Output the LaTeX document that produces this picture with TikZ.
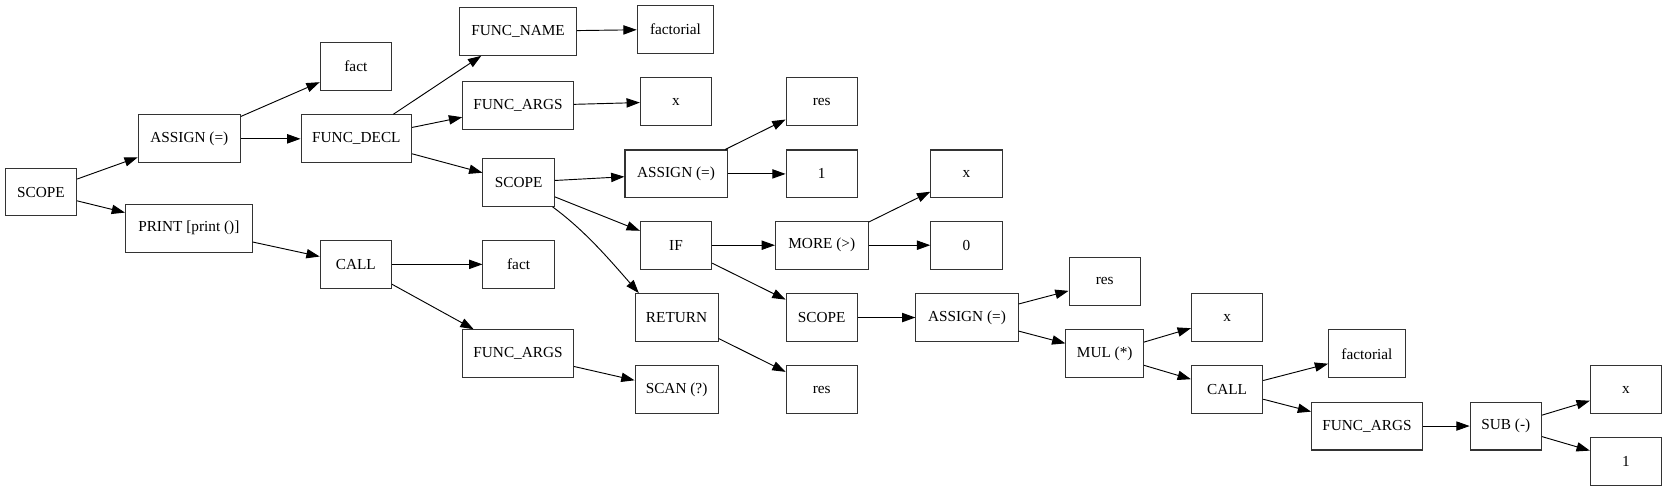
\documentclass[tikz,border=0pt]{standalone}
\usepackage{fontspec}
\setmainfont{Liberation Serif}
\usetikzlibrary{arrows.meta}
\begin{document}
\begin{tikzpicture}[x=0.8pt,y=-0.8pt,
  box/.style={draw=black!80,line width=0.8pt,rectangle,minimum height=36pt,minimum width=53.6pt,inner xsep=7.9pt,font=\fontsize{11.5}{13}\selectfont},
  w/.style={minimum width=#1*0.8pt},
  edge/.style={line width=0.7pt,-{Triangle[length=10pt,width=7pt]}}]
\useasboundingbox (0,0) rectangle (1568,462);
\node[box] (scope1) at (38.5,180.5) {SCOPE};
\node[box,w=96] (assign1) at (178,130.5) {ASSIGN (=)};
\node[box,w=119] (print) at (177.5,214.5) {PRINT [print ()]};
\node[box] (fact1) at (334.5,62.5) {fact};
\node[box,w=104] (fdecl) at (335,130.5) {FUNC\_DECL};
\node[box] (call1) at (334.5,248.5) {CALL};
\node[box,w=110] (fname) at (487,29.5) {FUNC\_NAME};
\node[box,w=104] (fargs1) at (487,99.5) {FUNC\_ARGS};
\node[box] (scope2) at (487.5,171.5) {SCOPE};
\node[box] (fact2) at (487.5,248.5) {fact};
\node[box,w=104] (fargs2) at (487,332.5) {FUNC\_ARGS};
\node[box,w=72] (factorial1) at (635,27.5) {factorial};
\node[box] (x1) at (635.5,95.5) {x};
\node[box,w=96] (assign2) at (635.5,163.5) {ASSIGN (=)};
\node[box] (if) at (635.5,230.5) {IF};
\node[box,w=78] (return) at (636,298.5) {RETURN};
\node[box,w=78] (scan) at (636,366.5) {SCAN (?)};
\node[box] (res1) at (772.5,95.5) {res};
\node[box] (one1) at (772.5,163.5) {1};
\node[box,w=87] (more) at (772.5,230.5) {MORE (>)};
\node[box] (scope3) at (772.5,298.5) {SCOPE};
\node[box] (res2) at (772.5,366.5) {res};
\node[box] (x2) at (908.5,163.5) {x};
\node[box] (zero) at (908.5,230.5) {0};
\node[box,w=96] (assign3) at (909,298.5) {ASSIGN (=)};
\node[box] (res3) at (1038.5,264.5) {res};
\node[box,w=73] (mul) at (1038.5,332.5) {MUL (*)};
\node[box] (x3) at (1153.5,298.5) {x};
\node[box] (call2) at (1153.5,366.5) {CALL};
\node[box,w=72] (factorial2) at (1285,332.5) {factorial};
\node[box,w=104] (fargs3) at (1285,400.5) {FUNC\_ARGS};
\node[box] (sub) at (1415.5,400.5) {SUB (-)};
\node[box] (x4) at (1528.5,366.5) {x};
\node[box] (one2) at (1528.5,433.5) {1};

\draw[edge] (scope1) -- (assign1);
\draw[edge] (scope1) -- (print);
\draw[edge] (assign1) -- (fact1);
\draw[edge] (assign1) -- (fdecl);
\draw[edge] (fdecl) -- (fname);
\draw[edge] (fdecl) -- (fargs1);
\draw[edge] (fdecl) -- (scope2);
\draw[edge] (fname) -- (factorial1);
\draw[edge] (fargs1) -- (x1);
\draw[edge] (scope2) -- (assign2);
\draw[edge] (scope2) -- (if);
\draw[edge] ([xshift=-1.6pt]scope2.south east) .. controls +(30,22) and +(-28,-32) .. ([xshift=3.2pt]return.north west);
\draw[edge] (assign2) -- (res1);
\draw[edge] (assign2) -- (one1);
\draw[edge] (if) -- (more);
\draw[edge] (if) -- (scope3);
\draw[edge] (more) -- (x2);
\draw[edge] (more) -- (zero);
\draw[edge] (scope3) -- (assign3);
\draw[edge] (assign3) -- (res3);
\draw[edge] (assign3) -- (mul);
\draw[edge] (mul) -- (x3);
\draw[edge] (mul) -- (call2);
\draw[edge] (call2) -- (factorial2);
\draw[edge] (call2) -- (fargs3);
\draw[edge] (fargs3) -- (sub);
\draw[edge] (sub) -- (x4);
\draw[edge] (sub) -- (one2);
\draw[edge] (return) -- (res2);
\draw[edge] (print) -- (call1);
\draw[edge] (call1) -- (fact2);
\draw[edge] (call1) -- (fargs2);
\draw[edge] (fargs2) -- (scan);
\end{tikzpicture}
\end{document}
